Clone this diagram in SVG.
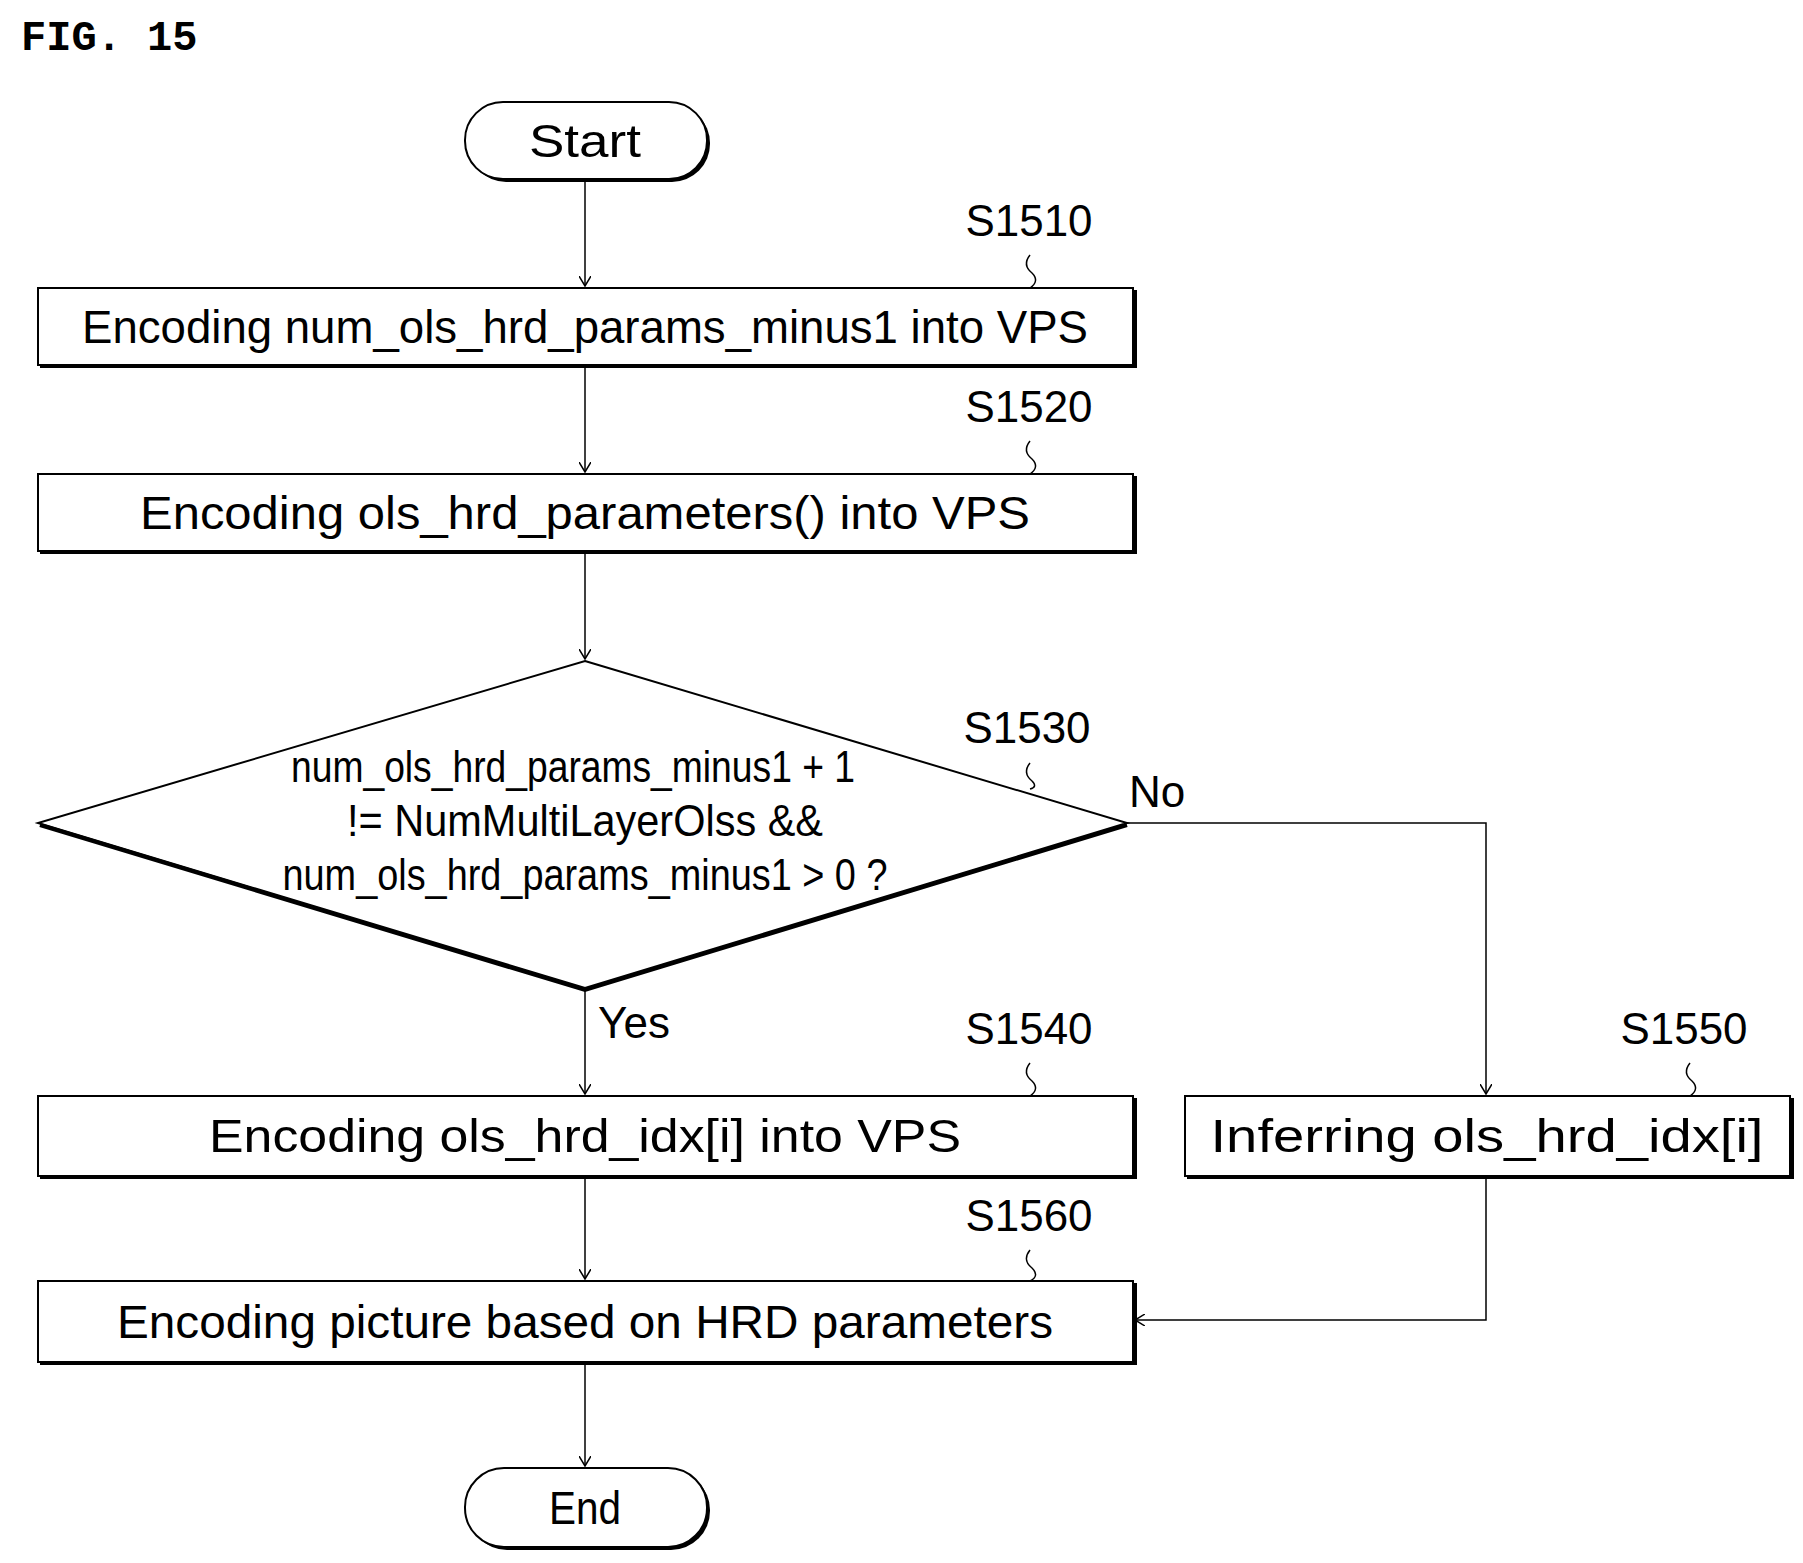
<svg xmlns="http://www.w3.org/2000/svg" width="1803" height="1563" viewBox="0 0 1803 1563">
<style>
.n{fill:#fff;stroke:#000;stroke-width:2}
.sh{fill:none;stroke:#000;stroke-width:4}
.t{font-family:"Liberation Sans",Arial,sans-serif;font-size:46px;fill:#000;text-anchor:middle}
.l{font-family:"Liberation Sans",Arial,sans-serif;font-size:44px;fill:#000;text-anchor:middle}
.c{fill:none;stroke:#000;stroke-width:1.5}
</style>
<defs><marker id="a" markerWidth="12" markerHeight="12" refX="10" refY="6" orient="auto" markerUnits="userSpaceOnUse"><path d="M0,0 L10,6 L0,12" fill="none" stroke="#000" stroke-width="1.5"/></marker></defs>
<text x="21" y="50" font-family="Liberation Mono,monospace" font-size="42" font-weight="bold">FIG. 15</text>
<g id="connectors">
<path class="c" d="M585,179 V286" marker-end="url(#a)"/>
<path class="c" d="M585,365 V472" marker-end="url(#a)"/>
<path class="c" d="M585,551 V659" marker-end="url(#a)"/>
<path class="c" d="M585,988 V1094" marker-end="url(#a)"/>
<path class="c" d="M1127,823 H1486 V1094" marker-end="url(#a)"/>
<path class="c" d="M585,1176 V1279" marker-end="url(#a)"/>
<path class="c" d="M1486,1176 V1320 H1135" marker-end="url(#a)"/>
<path class="c" d="M585,1362 V1466" marker-end="url(#a)"/>
<path class="c" d="M1030,255 q-8,10 2,18 q8,8 -2,15"/>
<path class="c" d="M1030,441 q-8,10 2,18 q8,8 -2,15"/>
<path class="c" d="M1030,763 q-8,10 2,18 q6,6 -2,8"/>
<path class="c" d="M1030,1063 q-8,10 2,18 q8,8 -2,15"/>
<path class="c" d="M1690,1063 q-8,10 2,18 q8,8 -2,15"/>
<path class="c" d="M1030,1250 q-8,10 2,18 q8,8 -2,13"/>
</g>
<g id="start"><rect x="468" y="105" width="242" height="77" rx="38" fill="#000"/><rect class="n" x="465" y="102" width="242" height="77" rx="38"/><text class="t" x="585" y="157" textLength="112" lengthAdjust="spacingAndGlyphs">Start</text></g>
<g id="s1510"><rect class="n" x="38" y="288" width="1095" height="77"/><path class="sh" d="M40,366 H1135 V290"/><text class="t" x="585" y="343" textLength="1006" lengthAdjust="spacingAndGlyphs">Encoding num_ols_hrd_params_minus1 into VPS</text><text class="l" x="1029" y="236" textLength="127" lengthAdjust="spacingAndGlyphs">S1510</text></g>
<g id="s1520"><rect class="n" x="38" y="474" width="1095" height="77"/><path class="sh" d="M40,552 H1135 V476"/><text class="t" x="585" y="529" textLength="890" lengthAdjust="spacingAndGlyphs">Encoding ols_hrd_parameters() into VPS</text><text class="l" x="1029" y="422" textLength="127" lengthAdjust="spacingAndGlyphs">S1520</text></g>
<g id="s1530"><polygon class="n" points="585,661 1127,823 585,988 38,823"/><path class="sh" d="M40,825 L585,990 L1127,825"/>
<text class="l" x="573" y="782" textLength="564" lengthAdjust="spacingAndGlyphs">num_ols_hrd_params_minus1 + 1</text>
<text class="l" x="585" y="836" textLength="476" lengthAdjust="spacingAndGlyphs">!= NumMultiLayerOlss &amp;&amp;</text>
<text class="l" x="585" y="890" textLength="605" lengthAdjust="spacingAndGlyphs">num_ols_hrd_params_minus1 &gt; 0 ?</text>
<text class="l" x="1027" y="743" textLength="127" lengthAdjust="spacingAndGlyphs">S1530</text>
<text class="l" x="1157" y="807">No</text><text class="l" x="634" y="1038">Yes</text></g>
<g id="s1540"><rect class="n" x="38" y="1096" width="1095" height="80"/><path class="sh" d="M40,1177 H1135 V1098"/><text class="t" x="585" y="1152" textLength="752" lengthAdjust="spacingAndGlyphs">Encoding ols_hrd_idx[i] into VPS</text><text class="l" x="1029" y="1044" textLength="127" lengthAdjust="spacingAndGlyphs">S1540</text></g>
<g id="s1550"><rect class="n" x="1185" y="1096" width="605" height="80"/><path class="sh" d="M1187,1177 H1792 V1098"/><text class="t" x="1487" y="1152" textLength="553" lengthAdjust="spacingAndGlyphs">Inferring ols_hrd_idx[i]</text><text class="l" x="1684" y="1044" textLength="127" lengthAdjust="spacingAndGlyphs">S1550</text></g>
<g id="s1560"><rect class="n" x="38" y="1281" width="1095" height="81"/><path class="sh" d="M40,1363 H1135 V1283"/><text class="t" x="585" y="1338" textLength="936" lengthAdjust="spacingAndGlyphs">Encoding picture based on HRD parameters</text><text class="l" x="1029" y="1231" textLength="127" lengthAdjust="spacingAndGlyphs">S1560</text></g>
<g id="end"><rect x="468" y="1471" width="242" height="79" rx="39" fill="#000"/><rect class="n" x="465" y="1468" width="242" height="79" rx="39"/><text class="t" x="585" y="1524" textLength="72" lengthAdjust="spacingAndGlyphs">End</text></g>
</svg>
